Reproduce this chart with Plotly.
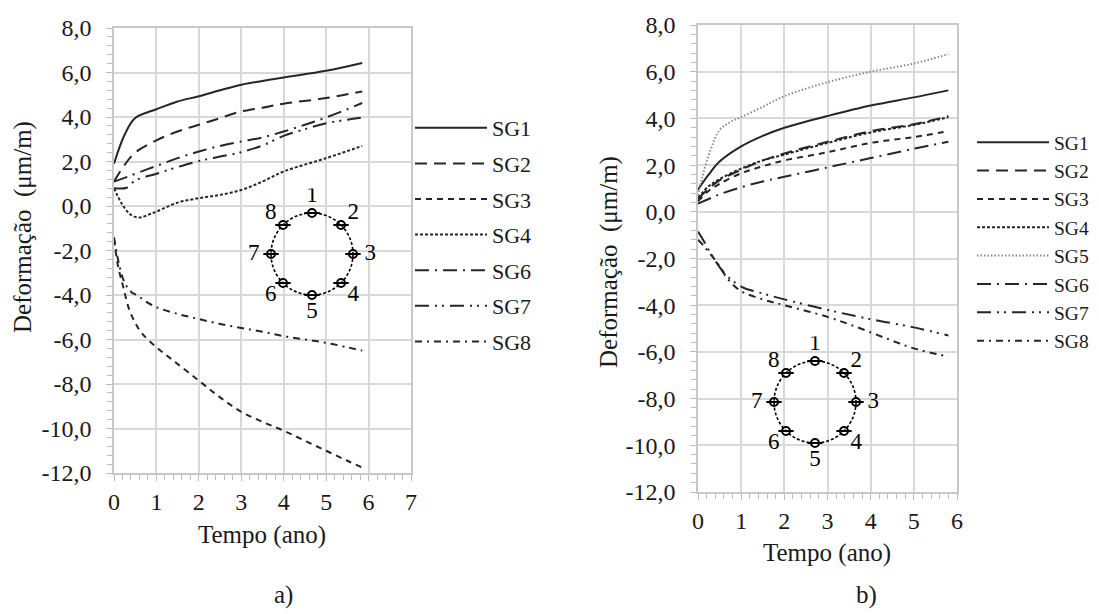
import math
import plotly.graph_objects as go

# ---------------- data: chart a) ----------------
a_SG1_t = [0, 0.25, 0.5, 1, 1.5, 2, 2.5, 3, 3.5, 4, 5, 5.85]
a_SG1 = [1.9, 3.2, 3.95, 4.35, 4.7, 4.93, 5.2, 5.45, 5.62, 5.78, 6.08, 6.43]
a_SG2_t = [0, 0.25, 0.5, 1, 1.5, 2, 2.5, 3, 3.5, 4, 5, 5.85]
a_SG2 = [1.1, 1.85, 2.4, 2.95, 3.35, 3.65, 3.95, 4.25, 4.42, 4.6, 4.85, 5.15]
a_SG3_t = [0, 0.1, 0.2, 0.35, 0.5, 0.65, 1, 1.4, 2, 2.5, 3, 3.5, 4, 4.5, 5, 5.5, 5.85]
a_SG3 = [-1.5, -2.75, -3.5, -4.6, -5.25, -5.7, -6.35, -6.95, -7.85, -8.6, -9.25, -9.7,
         -10.1, -10.55, -11.0, -11.45, -11.75]
a_SG4_t = [0, 0.2, 0.4, 0.6, 0.8, 1, 1.5, 2, 2.5, 3, 3.5, 4, 5, 5.85]
a_SG4 = [0.8, 0.05, -0.4, -0.52, -0.4, -0.25, 0.15, 0.35, 0.5, 0.72, 1.1, 1.55, 2.15, 2.7]
a_SG6_t = [0, 0.3, 0.5, 1, 1.5, 2, 2.5, 3, 3.5, 4, 4.5, 5, 5.5, 5.85]
a_SG6 = [1.1, 1.3, 1.45, 1.8, 2.15, 2.45, 2.7, 2.9, 3.08, 3.35, 3.65, 3.98, 4.35, 4.63]
a_SG7_t = [0, 0.3, 0.5, 1, 1.5, 2, 2.5, 3, 3.5, 4, 4.5, 5, 5.5, 5.85]
a_SG7 = [0.8, 0.82, 1.15, 1.45, 1.75, 2.02, 2.22, 2.42, 2.72, 3.15, 3.45, 3.72, 3.88, 3.98]
a_SG8_t = [0, 0.1, 0.25, 0.4, 0.57, 0.8, 1, 1.5, 2, 2.5, 3, 3.5, 4, 4.5, 5, 5.5, 5.85]
a_SG8 = [-1.4, -2.45, -3.45, -3.85, -4.05, -4.35, -4.55, -4.85, -5.08, -5.3, -5.48, -5.65,
         -5.85, -6.0, -6.15, -6.35, -6.5]

# ---------------- data: chart b) ----------------
b_t = [0, 0.25, 0.5, 1, 1.5, 2, 3, 4, 5, 5.8]
b_SG1 = [0.95, 1.6, 2.15, 2.8, 3.25, 3.6, 4.1, 4.55, 4.9, 5.2]
b_SG2 = [0.55, 1.0, 1.35, 1.8, 2.2, 2.5, 3.0, 3.45, 3.75, 4.1]
b_SG3 = [0.45, 0.9, 1.2, 1.65, 1.95, 2.2, 2.55, 2.95, 3.2, 3.45]
b_SG4 = [0.6, 1.1, 1.4, 1.85, 2.2, 2.45, 2.95, 3.4, 3.72, 4.05]
b_SG5_t = [0, 0.1, 0.3, 0.5, 0.75, 1, 1.5, 2, 3, 4, 5, 5.8]
b_SG5 = [0.7, 1.5, 2.7, 3.5, 3.85, 4.05, 4.5, 4.95, 5.55, 6.0, 6.35, 6.75]
b_SG6 = [0.35, 0.55, 0.75, 1.05, 1.3, 1.5, 1.9, 2.3, 2.7, 3.0]
b_SG7_t = [0, 0.15, 0.3, 0.6, 1, 1.5, 2, 3, 4, 5, 5.8]
b_SG7 = [-0.85, -1.3, -1.8, -2.6, -3.2, -3.5, -3.75, -4.2, -4.6, -4.95, -5.3]
b_SG8_t = [0, 0.15, 0.45, 0.7, 1, 1.5, 2, 3, 3.7, 4.4, 5, 5.8]
b_SG8 = [-1.2, -1.5, -2.2, -2.9, -3.4, -3.75, -4.0, -4.5, -4.95, -5.45, -5.85, -6.2]

# axis ticks
y_tickvals = [-12, -10, -8, -6, -4, -2, 0, 2, 4, 6, 8]
y_ticktext = ["-12,0", "-10,0", "-8,0", "-6,0", "-4,0", "-2,0", "0,0", "2,0", "4,0", "6,0", "8,0"]

# sensor layout (section diagram)
sensor_labels = ["1", "2", "3", "4", "5", "6", "7", "8"]
sensor_angles_deg = [90, 45, 0, -45, -90, -135, 180, 135]

# ---------------- styles ----------------
FONT = "Liberation Serif"
INK = "#262626"
GRID = "#d9d9d9"
styles = {
    "SG1": dict(color=INK, dash="solid"),
    "SG2": dict(color=INK, dash="12px,7px"),
    "SG3": dict(color=INK, dash="6px,5px"),
    "SG4": dict(color=INK, dash="3px,2px"),
    "SG5": dict(color="#8a8a8a", dash="1.5px,2px"),
    "SG6": dict(color=INK, dash="14px,6px,2px,6px"),
    "SG7": dict(color=INK, dash="14px,6px,2px,5px,2px,6px"),
    "SG8": dict(color=INK, dash="7px,5px,2px,5px"),
}

fig = go.Figure()

series_a = [("SG1", a_SG1_t, a_SG1), ("SG2", a_SG2_t, a_SG2), ("SG3", a_SG3_t, a_SG3),
            ("SG4", a_SG4_t, a_SG4), ("SG6", a_SG6_t, a_SG6), ("SG7", a_SG7_t, a_SG7),
            ("SG8", a_SG8_t, a_SG8)]
series_b = [("SG1", b_t, b_SG1), ("SG2", b_t, b_SG2), ("SG3", b_t, b_SG3),
            ("SG4", b_t, b_SG4), ("SG5", b_SG5_t, b_SG5), ("SG6", b_t, b_SG6),
            ("SG7", b_SG7_t, b_SG7), ("SG8", b_SG8_t, b_SG8)]

for name, t, v in series_a:
    st = styles[name]
    fig.add_trace(go.Scatter(x=t, y=v, name=name, mode="lines", line_shape="spline",
                             line=dict(color=st["color"], dash=st["dash"], width=2),
                             xaxis="x", yaxis="y", legend="legend",
                             legendgroup="a" + name))
for name, t, v in series_b:
    st = styles[name]
    fig.add_trace(go.Scatter(x=t, y=v, name=name, mode="lines", line_shape="spline",
                             line=dict(color=st["color"], dash=st["dash"], width=2),
                             xaxis="x2", yaxis="y2", legend="legend2",
                             legendgroup="b" + name))

# ---------------- section diagrams ----------------
R = 1.0
LR = 1.42
sx = [R * math.cos(math.radians(a)) for a in sensor_angles_deg]
sy = [R * math.sin(math.radians(a)) for a in sensor_angles_deg]
lx = [LR * math.cos(math.radians(a)) for a in sensor_angles_deg]
ly = [LR * math.sin(math.radians(a)) for a in sensor_angles_deg]

for xa, ya in (("x3", "y3"), ("x4", "y4")):
    fig.add_shape(type="circle", xref=xa, yref=ya, x0=-R, y0=-R, x1=R, y1=R,
                  line=dict(color="black", width=1.6, dash="3px,2px"))
    fig.add_trace(go.Scatter(x=sx, y=sy, mode="markers", xaxis=xa, yaxis=ya,
                             marker=dict(symbol="circle", size=8, color="white",
                                         line=dict(color="black", width=2)),
                             showlegend=False, hoverinfo="skip"))
    fig.add_trace(go.Scatter(x=sx, y=sy, mode="markers", xaxis=xa, yaxis=ya,
                             marker=dict(symbol="line-ew", size=11,
                                         line=dict(color="black", width=1.8)),
                             showlegend=False, hoverinfo="skip"))
    fig.add_trace(go.Scatter(x=lx, y=ly, mode="text", text=sensor_labels, xaxis=xa, yaxis=ya,
                             textfont=dict(family=FONT, size=23, color="black"),
                             showlegend=False, hoverinfo="skip"))

W, H = 1099, 614


def px_x(p):
    return p / W


def px_y(p):
    return 1 - p / H


tickfont = dict(family=FONT, size=24, color="#1a1a1a")


def main_xaxis(domain, rng, anchor):
    return dict(domain=domain, range=rng, dtick=1, tick0=0, showgrid=True, gridcolor=GRID,
                gridwidth=1.6, zeroline=False, showline=True, linecolor="#c8c8c8",
                linewidth=1.6, mirror=True, ticks="outside", ticklen=6, tickcolor="#bdbdbd",
                tickwidth=1.4, tickfont=tickfont, ticklabelstandoff=0, anchor=anchor,
                minor=dict(dtick=0.2, ticks="outside", ticklen=5, tickcolor="#bdbdbd",
                           tickwidth=1.2, showgrid=False),
                fixedrange=True)


def main_yaxis(domain, anchor):
    return dict(domain=domain, range=[-12, 8], tickmode="array", tickvals=y_tickvals,
                ticktext=y_ticktext,
                showgrid=True, gridcolor=GRID, gridwidth=1.6, zeroline=False, showline=True,
                linecolor="#c8c8c8", linewidth=1.6, mirror=True, ticks="outside",
                ticklen=6, tickcolor="#bdbdbd", tickwidth=1.4, tickfont=tickfont,
                ticklabelstandoff=10, anchor=anchor,
                minor=dict(dtick=0.4, tick0=0, ticks="outside", ticklen=5, tickcolor="#bdbdbd",
                           tickwidth=1.2, showgrid=False),
                fixedrange=True)


def diag_axis(domain, anchor):
    return dict(domain=domain, range=[-1.6, 1.6], visible=False, fixedrange=True,
                anchor=anchor)


ca, cb = (312, 254), (815, 402)
half = 65.6

legend_common = dict(bgcolor="rgba(0,0,0,0)", borderwidth=0, xanchor="left", yanchor="top",
                     itemwidth=72, traceorder="grouped")

fig.update_layout(
    width=W, height=H, margin=dict(l=0, r=0, t=0, b=0, autoexpand=False),
    paper_bgcolor="white", plot_bgcolor="rgba(0,0,0,0)", separators=",.",
    font=dict(family=FONT, size=22, color="#1a1a1a"),
    xaxis=main_xaxis([px_x(114), px_x(411)], [0, 7], "y"),
    yaxis=main_yaxis([px_y(473), px_y(28)], "x"),
    xaxis2=main_xaxis([px_x(698), px_x(957)], [0, 6], "y2"),
    yaxis2=main_yaxis([px_y(492), px_y(25)], "x2"),
    xaxis3=diag_axis([px_x(ca[0] - half), px_x(ca[0] + half)], "y3"),
    yaxis3=diag_axis([px_y(ca[1] + half), px_y(ca[1] - half)], "x3"),
    xaxis4=diag_axis([px_x(cb[0] - half), px_x(cb[0] + half)], "y4"),
    yaxis4=diag_axis([px_y(cb[1] + half), px_y(cb[1] - half)], "x4"),
    legend=legend_common | dict(x=px_x(410), y=px_y(107), tracegroupgap=4,
                                font=dict(family=FONT, size=22, color="#1a1a1a")),
    legend2=legend_common | dict(x=px_x(972), y=px_y(123), tracegroupgap=0,
                                 font=dict(family=FONT, size=19.5, color="#1a1a1a")),
    showlegend=True,
)

title_font = dict(family=FONT, size=25, color="#1a1a1a")
annots = [
    dict(text="Tempo (ano)", x=px_x(262), y=px_y(535)),
    dict(text="Tempo (ano)", x=px_x(827), y=px_y(553)),
    dict(text="Deformação  (μm/m)", x=px_x(23), y=px_y(227), textangle=-90),
    dict(text="Deformação  (μm/m)", x=px_x(609), y=px_y(262), textangle=-90),
    dict(text="a)", x=px_x(283), y=px_y(595)),
    dict(text="b)", x=px_x(866), y=px_y(595)),
]
for an in annots:
    fig.add_annotation(xref="paper", yref="paper", showarrow=False, font=title_font,
                       xanchor="center", yanchor="middle", **an)

fig.write_html("out.html", config={"displayModeBar": False},
               post_script="document.body.style.margin='0';document.body.style.overflow='hidden';")
